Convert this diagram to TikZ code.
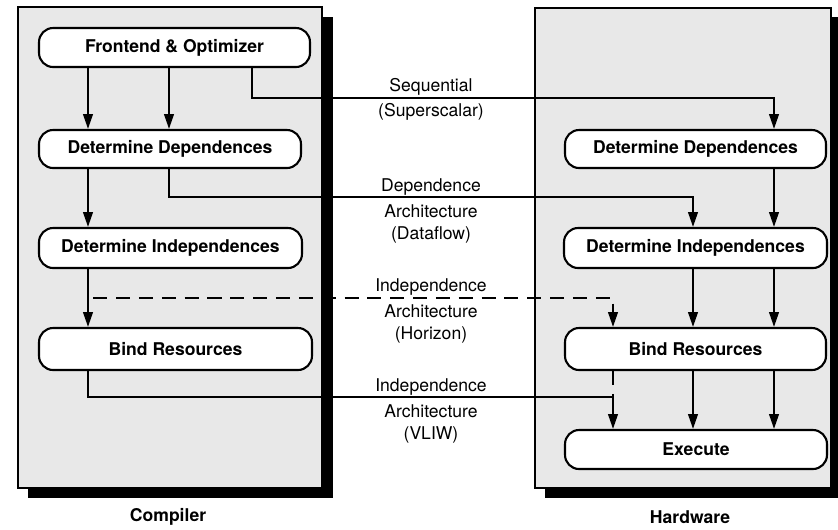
\documentclass[tikz,border=0pt]{standalone}
\usepackage{fontspec}
\setmainfont{TeX Gyre Heros}
\usetikzlibrary{arrows.meta,calc}

\begin{document}
\begin{tikzpicture}[x=0.02cm,y=-0.02cm,>={Triangle[length=8.5pt,width=5.5pt]},
    blk/.style={draw,line width=1.2pt,rounded corners=8pt,fill=white,font=\bfseries,inner sep=0pt},
    lnk/.style={->,line width=1.2pt},
    dsh/.style={dash pattern=on 8pt off 5pt}]
    \useasboundingbox (0,0) rectangle (838,529);
    % panels and their shadows
    \fill (28,17) rectangle (333,498);
    \filldraw[fill=black!9,line width=1.2pt] (18,7) rectangle (322,488);
    \fill (545,17) rectangle (841,498);
    \filldraw[fill=black!9,line width=1.2pt] (535,8) rectangle (831,488);
    % compiler side
    \node[blk,minimum width=5.42cm,minimum height=0.78cm] (fe) at (174.5,47.5) {Frontend \& Optimizer};
    \node[blk,minimum width=5.24cm,minimum height=0.76cm] (depL) at (170,149) {Determine Dependences};
    \node[blk,minimum width=5.26cm,minimum height=0.80cm] (indL) at (170.5,248) {Determine Independences};
    \node[blk,minimum width=5.46cm,minimum height=0.84cm] (bindL) at (175.5,349) {Bind Resources};
    % hardware side
    \node[blk,minimum width=5.22cm,minimum height=0.76cm] (depR) at (695.5,149) {Determine Dependences};
    \node[blk,minimum width=5.26cm,minimum height=0.80cm] (indR) at (695.5,248) {Determine Independences};
    \node[blk,minimum width=5.22cm,minimum height=0.84cm] (bindR) at (695.5,349) {Bind Resources};
    \node[blk,minimum width=5.24cm,minimum height=0.78cm] (exe) at (696,449.5) {Execute};
    \node[font=\bfseries] (cmp) at (168,517) {Compiler};
    \node[font=\bfseries] (hw) at (690,517) {Hardware};
    % columns and rows of the connectors
    \coordinate (cA) at (88,0);
    \coordinate (cB) at (169,0);
    \coordinate (cS) at (252,0);
    \coordinate (cH) at (613,0);
    \coordinate (cM) at (693,0);
    \coordinate (cR) at (774,0);
    \coordinate (rS) at (0,98);
    \coordinate (rD) at (0,197);
    \coordinate (rH) at (0,298);
    \coordinate (rV) at (0,397);
    \draw[lnk] (fe.south -| cA) -- (depL.north -| cA);
    \draw[lnk] (fe.south -| cB) -- (depL.north -| cB);
    \draw[lnk] (depL.south -| cA) -- (indL.north -| cA);
    \draw[lnk] (indL.south -| cA) -- (bindL.north -| cA);
    \draw[lnk] (depR.south -| cR) -- (indR.north -| cR);
    \foreach \c in {cM,cR} {
        \draw[lnk] (indR.south -| \c) -- (bindR.north -| \c);
        \draw[lnk] (bindR.south -| \c) -- (exe.north -| \c);
    }
    \draw[lnk] (fe.south -| cS) |- (rS -| cR) -- (depR.north -| cR);
    \draw[lnk] (depL.south -| cB) |- (rD -| cM) -- (indR.north -| cM);
    \draw[lnk,dsh,dash phase=-3pt] (rH -| cA) -| (bindR.north -| cH);
    \draw[lnk] (bindL.south -| cA) |- (rV -| cH) -- (exe.north -| cH);
    \draw[line width=1.2pt,dsh] (bindR.south -| cH) -- (rV -| cH);
    % labels of the four models
    \node (sq1) at (431,87) {Sequential};
    \node (sq2) at (431,112) {(Superscalar)};
    \node (df1) at (431,187) {Dependence};
    \node (df2) at (431,211) {Architecture};
    \node (df3) at (431,235) {(Dataflow)};
    \node (hz1) at (431,287) {Independence};
    \node (hz2) at (431,311) {Architecture};
    \node (hz3) at (431,335) {(Horizon)};
    \node (vl1) at (431,387) {Independence};
    \node (vl2) at (431,411) {Architecture};
    \node (vl3) at (431,435) {(VLIW)};
\end{tikzpicture}
\end{document}
